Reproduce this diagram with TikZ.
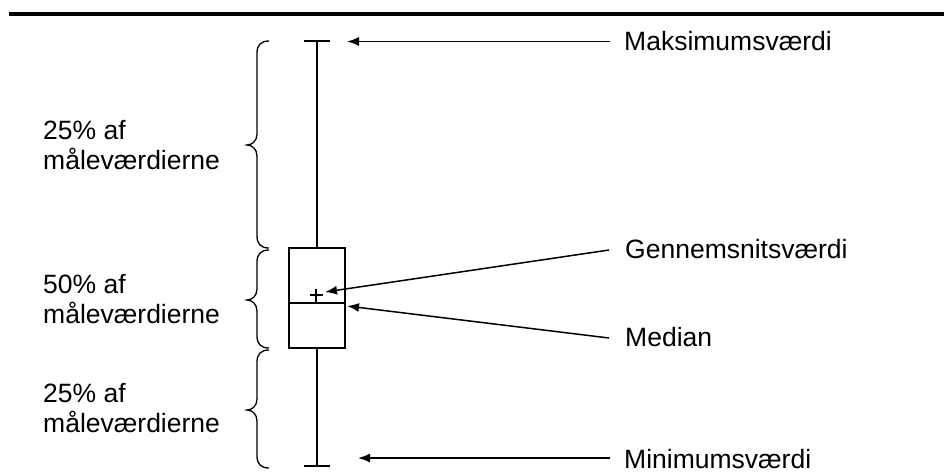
\documentclass[tikz,border=0pt]{standalone}
\usepackage{fontspec}
\setmainfont{Liberation Sans}
\usetikzlibrary{arrows.meta}
\tikzset{
  lbl/.style={anchor=base west, inner sep=0pt, font=\fontsize{26.5}{31}\selectfont},
  boxline/.style={line width=2pt},
  arr/.style={line width=1.5pt, -{Latex[length=12pt,width=9pt]}},
  brline/.style={line width=1.3pt},
}
\newcommand\drawbrace[3]{%
  \draw[brline] (269,#1) .. controls (261,#1) and (257,#1+4) .. (257,#1+12)
    -- (257,#2-11) .. controls (257,#2-4) and (252,#2) .. (247,#2)
    .. controls (252,#2) and (257,#2+4) .. (257,#2+11)
    -- (257,#3-12) .. controls (257,#3-4) and (261,#3) .. (269,#3);}
\newcommand\twolines[2]{\vtop{\baselineskip=30.5pt\hbox{#1}\hbox{#2}}}
\begin{document}
\begin{tikzpicture}[x=1pt,y=-1pt]
\useasboundingbox (0,0) rectangle (944,475);
% top rule
\coordinate (ruleL) at (9,14);
\coordinate (ruleR) at (944,14);
\draw[line width=3.4pt] (ruleL) -- (ruleR);
% box plot
\node[draw, boxline, minimum width=56pt, minimum height=100pt, inner sep=0pt] (box) at (317,298) {};
\coordinate (topcap) at (317,41);
\coordinate (botcap) at (317,466);
\coordinate (med) at (317,303);
\coordinate (mean) at (316,295);
\draw[boxline] (box.north) -- (topcap);
\draw[boxline] (box.south) -- (botcap);
\draw[boxline] ([xshift=-13pt]topcap) -- ([xshift=13pt]topcap);
\draw[boxline] ([xshift=-13pt]botcap) -- ([xshift=13pt]botcap);
\draw[boxline] (box.west |- med) -- (box.east |- med);
\draw[line width=1.5pt] ([xshift=-6.5pt]mean) -- ([xshift=6.5pt]mean);
\draw[line width=1.5pt] ([yshift=-6.5pt]mean) -- ([yshift=6.5pt]mean);
% braces
\drawbrace{41}{145}{248}
\drawbrace{250}{300}{348}
\drawbrace{350}{410}{468}
% left labels
\node[lbl] (l1) at (43,139) {\twolines{25\% af}{måleværdierne}};
\node[lbl] (l2) at (43,293) {\twolines{50\% af}{måleværdierne}};
\node[lbl] (l3) at (43,402) {\twolines{25\% af}{måleværdierne}};
% right labels
\node[lbl] (rmax) at (624,50) {Maksimumsværdi};
\node[lbl] (rmean) at (625,258) {Gennemsnitsværdi};
\node[lbl] (rmed) at (625,346) {Median};
\node[lbl] (rmin) at (624,468) {Minimumsværdi};
% arrows
\coordinate (amaxs) at (610,41.5);
\coordinate (amaxt) at (347,41.5);
\coordinate (ameans) at (609,250);
\coordinate (ameant) at (325,292);
\coordinate (ameds) at (609,338);
\coordinate (amedt) at (347,306);
\coordinate (amins) at (610,458);
\coordinate (amint) at (358,458);
\draw[arr] (amaxs) -- (amaxt);
\draw[arr] (ameans) -- (ameant);
\draw[arr] (ameds) -- (amedt);
\draw[arr] (amins) -- (amint);
\end{tikzpicture}
\end{document}
